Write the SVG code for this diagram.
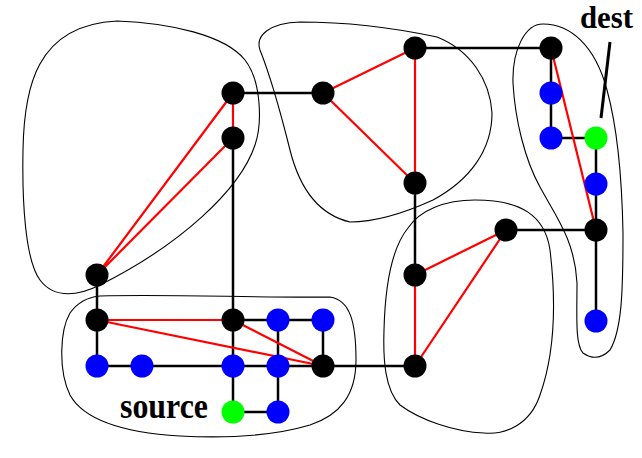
<svg xmlns="http://www.w3.org/2000/svg" width="642" height="458" viewBox="0 0 642 458">
<style>
.blob{fill:none;stroke:#000;stroke-width:1.1}
.e{stroke:#000;stroke-width:2.5;fill:none}
.r{stroke:#ff0000;stroke-width:2.2;fill:none}
.k{fill:#000}
.b{fill:#0000ff}
.g{fill:#00ff00}
.lbl{font-family:"Liberation Serif","Times New Roman",serif;font-weight:bold;fill:#000}
</style>
<rect width="642" height="458" fill="#fff"/>
<g id="clusters">
<path id="cluster-topleft" class="blob" d="M117,21 C170,23 225,35 245,60 C262,82 262,125 255,145 C240,190 180,245 100,285 C80,295 55,300 40,280 C25,260 22,200 23,150 C24,90 35,25 117,21 Z"/>
<path id="cluster-topmid" class="blob" d="M300,22 C340,22 390,27 437,37 C470,50 490,80 492,113 C492,150 470,180 433,200 C400,215 370,222 350,222 C320,215 300,190 290,150 C280,110 270,75 260,50 C255,35 270,23 300,22 Z"/>
<path id="cluster-right" class="blob" d="M543,24 C570,24 595,45 607,90 C618,130 622,180 623,233 C623,290 622,330 610,350 C602,358 593,360 583,353 C575,345 577,315 577,283 C575,240 555,215 540,187 C525,160 515,120 513,83 C512,50 525,24 543,24 Z"/>
<path id="cluster-mid" class="blob" d="M475,200 C520,200 545,215 550,250 C556,300 556,350 540,395 C530,425 505,435 484,433 C455,432 420,420 400,405 C385,390 383,360 384,330 C385,290 390,250 408,228 C420,210 445,200 475,200 Z"/>
<path id="cluster-bottomleft" class="blob" d="M100,296 C170,294 260,298 330,297 C350,300 356,322 356,360 C356,395 340,415 310,425 C270,437 220,438 180,436 C130,433 85,422 70,395 C58,370 60,330 70,313 C78,302 88,297 100,296 Z"/>
</g>
<g id="connectors">
<line class="e" x1="233" y1="93" x2="323" y2="93"/>
<line class="e" x1="415" y1="48" x2="551" y2="48"/>
<line class="e" x1="233" y1="138" x2="233" y2="412"/>
<line class="e" x1="97" y1="275" x2="97" y2="366"/>
<line class="e" x1="97" y1="366" x2="415" y2="366"/>
<line class="e" x1="233" y1="320" x2="323" y2="320"/>
<line class="e" x1="278" y1="320" x2="278" y2="412"/>
<line class="e" x1="323" y1="320" x2="323" y2="366"/>
<line class="e" x1="233" y1="412" x2="278" y2="412"/>
<line class="e" x1="415" y1="183" x2="415" y2="275"/>
<line class="e" x1="506" y1="230" x2="596" y2="230"/>
<line class="e" x1="596" y1="230" x2="596" y2="321"/>
<line class="e" x1="551" y1="48" x2="551" y2="138"/>
<line class="e" x1="551" y1="138" x2="596" y2="138"/>
<line class="e" x1="596" y1="138" x2="596" y2="230"/>
<line class="r" x1="233" y1="93" x2="233" y2="138"/>
<line class="r" x1="233" y1="93" x2="97" y2="275"/>
<line class="r" x1="233" y1="138" x2="97" y2="275"/>
<line class="r" x1="323" y1="93" x2="415" y2="48"/>
<line class="r" x1="323" y1="93" x2="415" y2="183"/>
<line class="r" x1="415" y1="48" x2="415" y2="183"/>
<line class="r" x1="97" y1="320" x2="233" y2="320"/>
<line class="r" x1="97" y1="320" x2="323" y2="366"/>
<line class="r" x1="233" y1="320" x2="323" y2="366"/>
<line class="r" x1="415" y1="275" x2="506" y2="230"/>
<line class="r" x1="415" y1="275" x2="415" y2="366"/>
<line class="r" x1="415" y1="366" x2="506" y2="230"/>
<line class="r" x1="551" y1="48" x2="596" y2="230"/>
<line id="dest-pointer" x1="610" y1="42" x2="601" y2="118" stroke="#000" stroke-width="3"/>
</g>
<g id="nodes">
<circle id="n1" class="k" cx="233" cy="93" r="11.5"/>
<circle id="n2" class="k" cx="233" cy="138" r="11.5"/>
<circle id="n3" class="k" cx="97" cy="275" r="11.5"/>
<circle id="n4" class="k" cx="323" cy="93" r="11.5"/>
<circle id="n5" class="k" cx="415" cy="48" r="11.5"/>
<circle id="n6" class="k" cx="415" cy="183" r="11.5"/>
<circle id="n7" class="k" cx="551" cy="48" r="11.5"/>
<circle id="n8" class="b" cx="551" cy="93" r="11.5"/>
<circle id="n9" class="b" cx="551" cy="138" r="11.5"/>
<circle id="dest" class="g" cx="596" cy="138" r="11.5"/>
<circle id="n10" class="b" cx="596" cy="184" r="11.5"/>
<circle id="n11" class="k" cx="596" cy="230" r="11.5"/>
<circle id="n12" class="b" cx="596" cy="321" r="11.5"/>
<circle id="n13" class="k" cx="506" cy="230" r="11.5"/>
<circle id="n14" class="k" cx="415" cy="275" r="11.5"/>
<circle id="n15" class="k" cx="415" cy="366" r="11.5"/>
<circle id="n16" class="k" cx="97" cy="320" r="11.5"/>
<circle id="n17" class="k" cx="233" cy="320" r="11.5"/>
<circle id="n18" class="b" cx="278" cy="320" r="11.5"/>
<circle id="n19" class="b" cx="323" cy="320" r="11.5"/>
<circle id="n20" class="b" cx="97" cy="366" r="11.5"/>
<circle id="n21" class="b" cx="142" cy="366" r="11.5"/>
<circle id="n22" class="b" cx="233" cy="366" r="11.5"/>
<circle id="n23" class="b" cx="278" cy="366" r="11.5"/>
<circle id="n24" class="k" cx="323" cy="366" r="11.5"/>
<circle id="source" class="g" cx="233" cy="412" r="11.5"/>
<circle id="n25" class="b" cx="278" cy="412" r="11.5"/>
</g>
<g id="labels">
<text class="lbl" x="120" y="418" font-size="35" textLength="88" lengthAdjust="spacingAndGlyphs">source</text>
<text class="lbl" x="580" y="28" font-size="32" textLength="53" lengthAdjust="spacingAndGlyphs">dest</text>
</g>
</svg>
